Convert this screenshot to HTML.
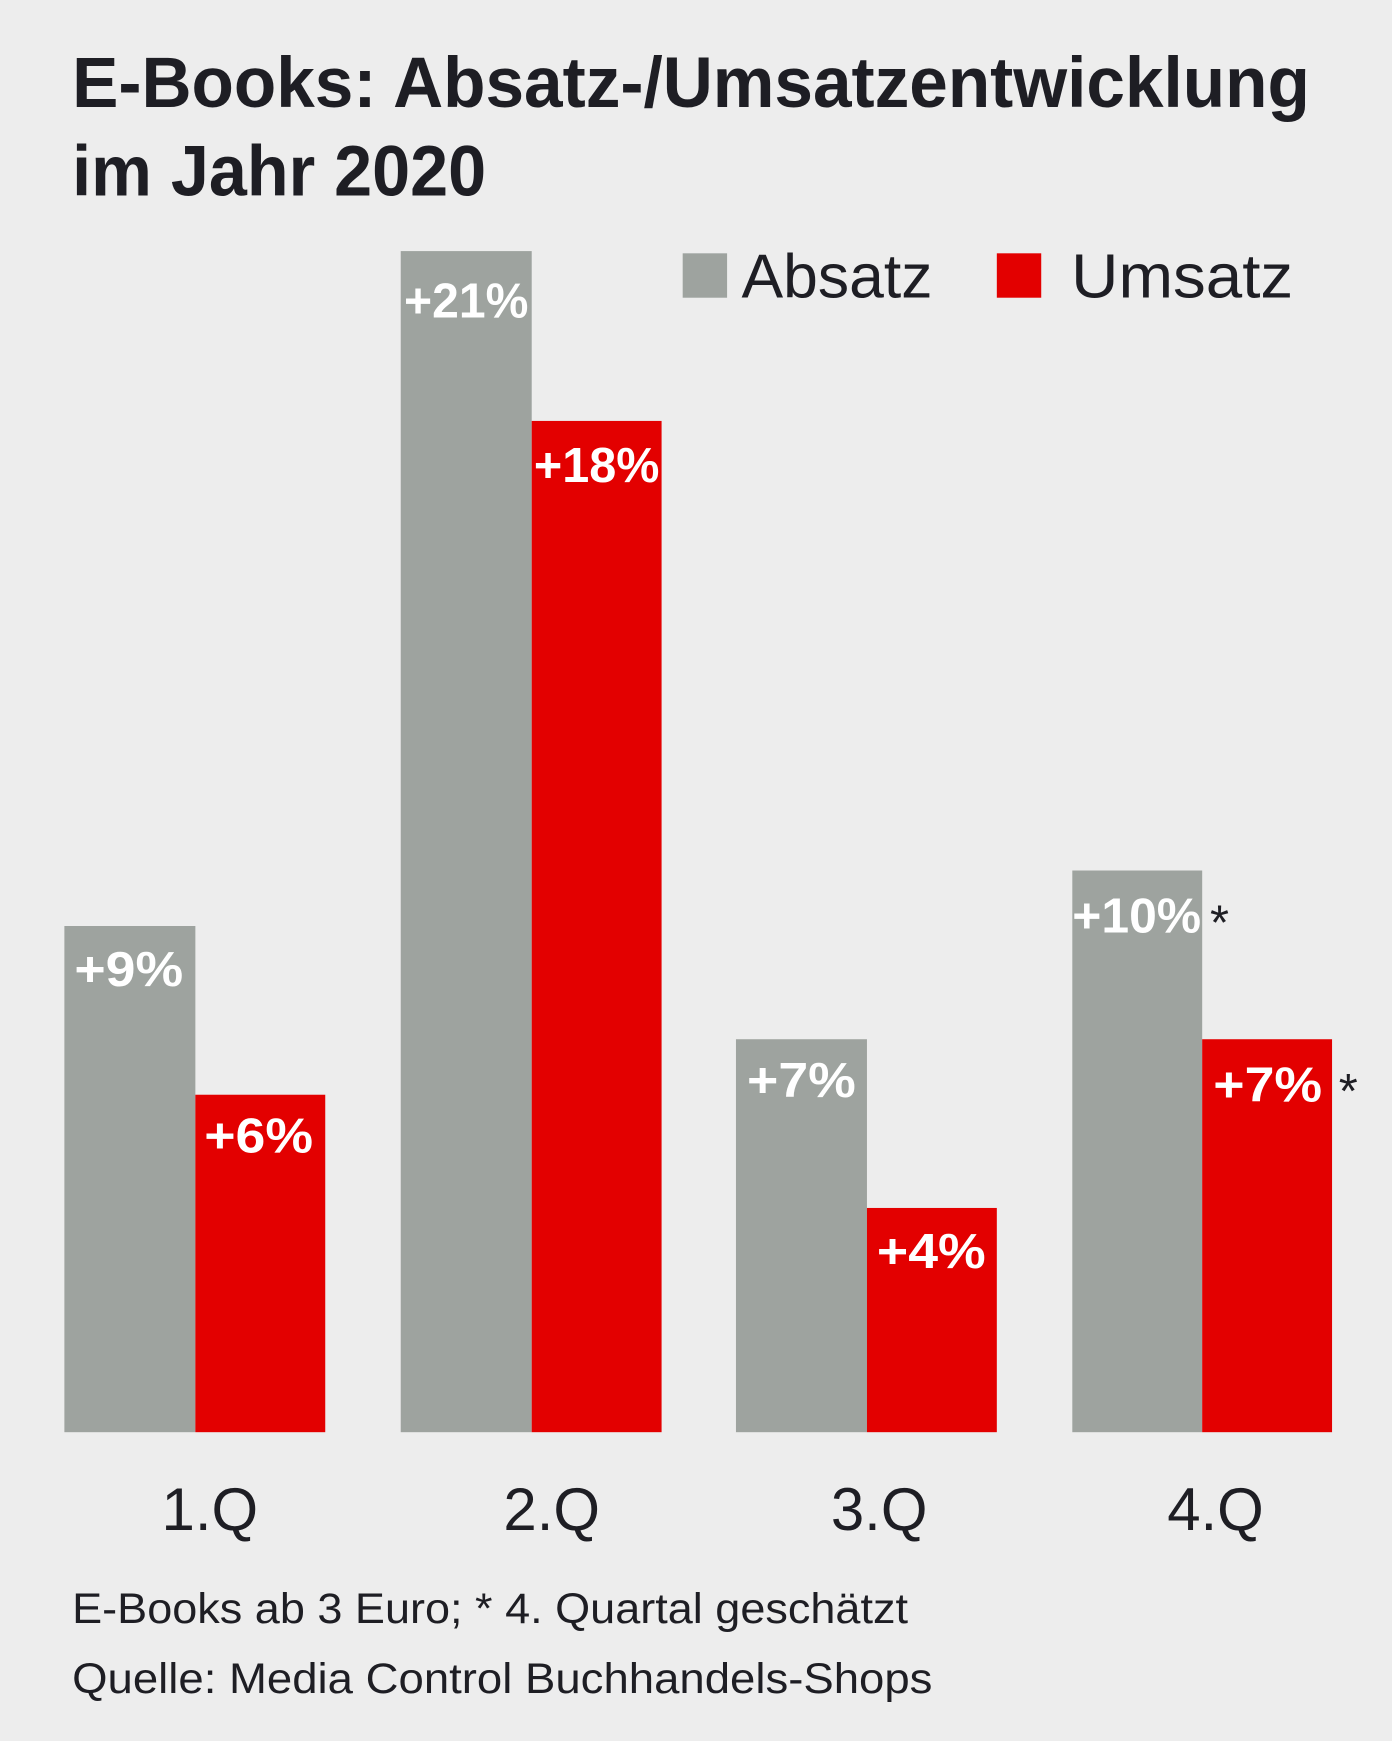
<!DOCTYPE html>
<html><head><meta charset="utf-8"><style>html,body{margin:0;padding:0;background:#ededed}svg{display:block}</style></head>
<body>
<svg width="1392" height="1741" viewBox="0 0 1254 1568" xmlns="http://www.w3.org/2000/svg" font-family="Liberation Sans, sans-serif">
<rect width="1254" height="1568" fill="#ededed"/>
<text x="65" y="96" font-size="64" font-weight="bold" fill="#1e1e24" textLength="1115" lengthAdjust="spacingAndGlyphs">E-Books: Absatz-/Umsatzentwicklung</text>
<text x="65" y="176" font-size="64" font-weight="bold" fill="#1e1e24" textLength="373" lengthAdjust="spacingAndGlyphs">im Jahr 2020</text>
<rect x="615" y="228" width="40" height="40" fill="#9ea39f"/>
<text x="668" y="268" font-size="56" fill="#1e1e24" textLength="172" lengthAdjust="spacingAndGlyphs">Absatz</text>
<rect x="898" y="228" width="40" height="40" fill="#e30000"/>
<text x="965" y="268" font-size="56" fill="#1e1e24" textLength="200" lengthAdjust="spacingAndGlyphs">Umsatz</text>
<g>
<rect x="58" y="834" width="118" height="456" fill="#9ea39f"/>
<rect x="176" y="986" width="117" height="304" fill="#e30000"/>
<rect x="361" y="226" width="118" height="1064" fill="#9ea39f"/>
<rect x="479" y="379" width="117" height="911" fill="#e30000"/>
<rect x="663" y="936" width="118" height="354" fill="#9ea39f"/>
<rect x="781" y="1088" width="117" height="202" fill="#e30000"/>
<rect x="966" y="784" width="117" height="506" fill="#9ea39f"/>
<rect x="1083" y="936" width="117" height="354" fill="#e30000"/>
</g>
<g font-size="44" font-weight="bold" fill="#fff">
<text x="67" y="888" textLength="98" lengthAdjust="spacingAndGlyphs">+9%</text>
<text x="184" y="1038" textLength="98" lengthAdjust="spacingAndGlyphs">+6%</text>
<text x="364" y="286" textLength="112" lengthAdjust="spacingAndGlyphs">+21%</text>
<text x="481" y="434" textLength="113" lengthAdjust="spacingAndGlyphs">+18%</text>
<text x="673" y="988" textLength="98" lengthAdjust="spacingAndGlyphs">+7%</text>
<text x="790" y="1142" textLength="98" lengthAdjust="spacingAndGlyphs">+4%</text>
<text x="966" y="840" textLength="116" lengthAdjust="spacingAndGlyphs">+10%</text>
<text x="1093" y="992" textLength="98" lengthAdjust="spacingAndGlyphs">+7%</text>
</g>
<text x="1090" y="846" font-size="44" fill="#1e1e24">*</text>
<text x="1206" y="998" font-size="44" fill="#1e1e24">*</text>
<g font-size="54" fill="#1e1e24" text-anchor="middle">
<text x="189" y="1378">1.Q</text>
<text x="497" y="1378">2.Q</text>
<text x="792" y="1378">3.Q</text>
<text x="1095" y="1378">4.Q</text>
</g>
<text x="65" y="1462" font-size="38" fill="#1e1e24" textLength="753" lengthAdjust="spacingAndGlyphs">E-Books ab 3 Euro; * 4. Quartal geschätzt</text>
<text x="65" y="1525" font-size="38" fill="#1e1e24" textLength="775" lengthAdjust="spacingAndGlyphs">Quelle: Media Control Buchhandels-Shops</text>
</svg>
</body></html>
